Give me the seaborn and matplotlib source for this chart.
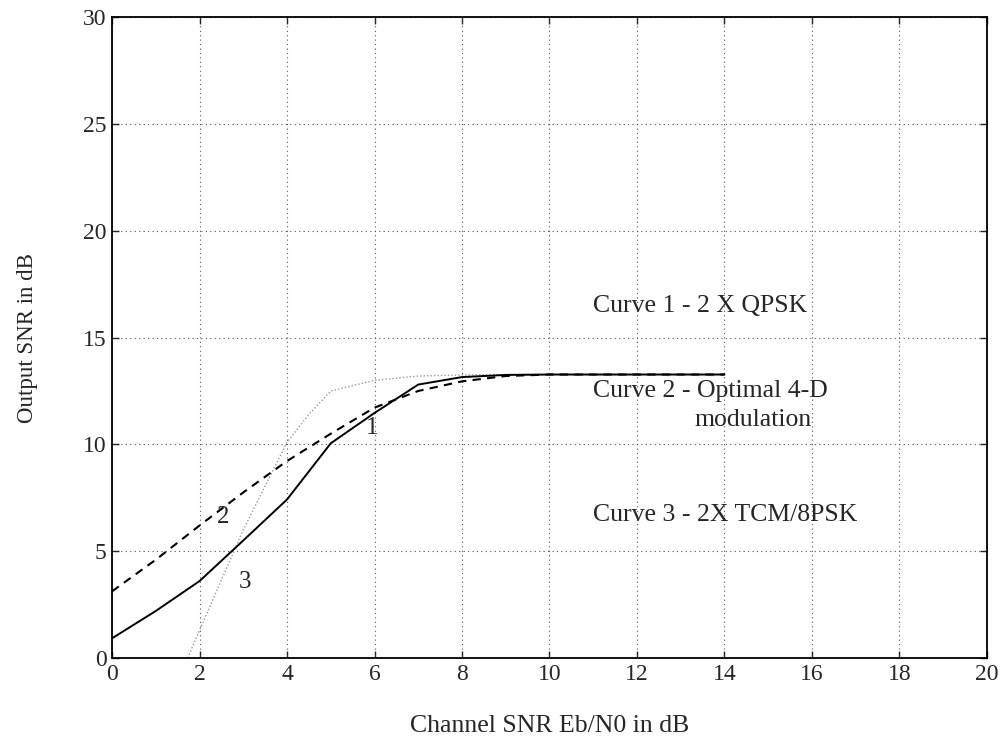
import matplotlib
matplotlib.use("Agg")
import matplotlib.pyplot as plt
import seaborn as sns
import pandas as pd

# Output SNR vs channel SNR for three modulation schemes
x1 = [0, 1, 2, 3, 4, 5, 6, 7, 8, 9, 10, 11, 12, 13, 14]
curve1 = [0.92, 2.2, 3.6, 5.5, 7.42, 10.05, 11.47, 12.8, 13.15, 13.25, 13.27, 13.27, 13.27, 13.27, 13.27]

x2 = [0, 1, 2, 3, 4, 5, 6, 7, 8, 9, 10, 11, 12, 13, 14]
curve2 = [3.12, 4.6, 6.2, 7.75, 9.22, 10.5, 11.72, 12.5, 12.95, 13.2, 13.27, 13.27, 13.27, 13.27, 13.27]

x3 = [1.73, 2, 3, 4, 4.5, 5, 6, 7, 8, 9, 10, 11, 12, 13, 14]
curve3 = [0.0, 1.3, 6.0, 10.1, 11.4, 12.5, 13.0, 13.2, 13.25, 13.27, 13.27, 13.27, 13.27, 13.27, 13.27]

x_ticks = [0, 2, 4, 6, 8, 10, 12, 14, 16, 18, 20]
y_ticks = [0, 5, 10, 15, 20, 25, 30]

legend_lines = ["Curve 1 - 2 X QPSK", "Curve 2 - Optimal 4-D", "modulation", "Curve 3 - 2X TCM/8PSK"]
curve_tags = ["1", "2", "3"]

sns.set_style("ticks")
plt.rcParams["font.family"] = ["Liberation Serif", "DejaVu Serif"]

fig = plt.figure(figsize=(10.03, 7.46), dpi=100)
ax = fig.add_axes([0.1117, 0.118, 0.8723, 0.859])

ax.grid(True, color="#555555", linestyle=(0, (1, 3)), linewidth=0.8)
ax.set_axisbelow(True)

df1 = pd.DataFrame({"x": x1, "y": curve1})
df2 = pd.DataFrame({"x": x2, "y": curve2})
df3 = pd.DataFrame({"x": x3, "y": curve3})

sns.lineplot(data=df3, x="x", y="y", ax=ax, color="#9a9a9a", linewidth=1.0,
             linestyle=(0, (1, 1.5)), estimator=None, sort=False)
sns.lineplot(data=df2, x="x", y="y", ax=ax, color="black", linewidth=1.5,
             linestyle=(0, (4, 3)), estimator=None, sort=False)
sns.lineplot(data=df1, x="x", y="y", ax=ax, color="black", linewidth=1.4,
             estimator=None, sort=False)

ax.set_xlim(0, 20)
ax.set_ylim(0, 30)
ax.set_xticks(x_ticks)
ax.set_yticks(y_ticks)
ax.set_xticklabels([str(t) for t in x_ticks])
ax.set_yticklabels([str(t) for t in y_ticks])
ax.tick_params(direction="in", length=5, width=1, labelsize=17, pad=4,
               top=True, right=True)
for s in ax.spines.values():
    s.set_linewidth(1.3)
    s.set_color("black")

ax.set_xlabel("Channel SNR Eb/N0 in dB", fontsize=18.5, labelpad=22)
ax.set_ylabel("Output SNR in dB", fontsize=16.5, labelpad=32)

ax.text(10.99, 16.2, legend_lines[0], fontsize=18.5, ha="left", va="baseline")
ax.text(10.99, 12.22, legend_lines[1], fontsize=18.5, ha="left", va="baseline")
ax.text(14.66, 10.87, legend_lines[2], fontsize=18.5, ha="center", va="baseline")
ax.text(10.99, 6.4, legend_lines[3], fontsize=18.5, ha="left", va="baseline")

ax.text(5.95, 10.75, curve_tags[0], fontsize=18, ha="center", va="center")
ax.text(2.54, 6.6, curve_tags[1], fontsize=18, ha="center", va="center")
ax.text(3.04, 3.55, curve_tags[2], fontsize=18, ha="center", va="center")

fig.savefig("out.png", dpi=100)
